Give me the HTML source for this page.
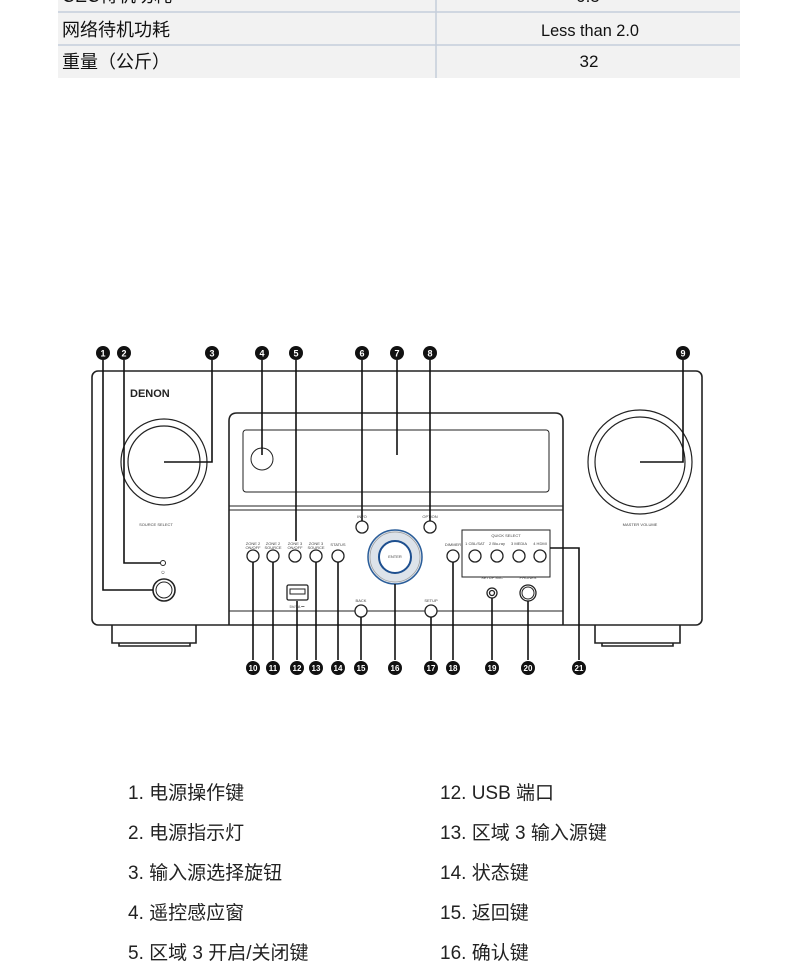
<!DOCTYPE html>
<html><head><meta charset="utf-8"><style>
body{margin:0;background:#fff;width:790px;height:971px;overflow:hidden;font-family:"Liberation Sans","Noto Sans CJK SC",sans-serif}
</style></head><body>
<svg width="790" height="971" viewBox="0 0 790 971" xmlns="http://www.w3.org/2000/svg" style="position:absolute;left:0;top:0">
<!-- table -->
<rect x="58" y="0" width="682" height="78" fill="#f2f2f2"/>
<g stroke="#c5cedb" stroke-width="1.5">
<line x1="58" y1="12" x2="740" y2="12"/><line x1="58" y1="45" x2="740" y2="45"/>
<line x1="436" y1="0" x2="436" y2="78"/></g>
<g font-family="Liberation Sans,Noto Sans CJK SC,sans-serif" font-size="18" fill="#111">
<text x="62" y="2">CEC待机功耗</text>
<text x="588" y="2" text-anchor="middle" font-size="17">0.5</text>
<text x="62" y="36">网络待机功耗</text>
<text x="590" y="36" text-anchor="middle" font-size="17" font-family="Liberation Sans Narrow,Liberation Sans,sans-serif" textLength="98" lengthAdjust="spacingAndGlyphs">Less than 2.0</text>
<text x="62" y="68">重量（公斤）</text>
<text x="589" y="67" text-anchor="middle" font-size="17" font-family="Liberation Sans Narrow,Liberation Sans,sans-serif">32</text>
</g>
<!-- device -->
<g fill="none" stroke="#222" stroke-width="1.6">
<rect x="92" y="371" width="610" height="254" rx="6" fill="#fff"/>
<path d="M112 625 V643 H196 V625 M119 643 V646 H190 V643"/>
<path d="M595 625 V643 H680 V625 M602 643 V646 H673 V643"/>
<path d="M229 625 V421 Q229 413 237 413 H555 Q563 413 563 421 V625"/>
<rect x="243" y="430" width="306" height="62" rx="3" stroke-width="1"/>
<line x1="229" y1="506" x2="563" y2="506" stroke-width="1"/>
<line x1="229" y1="510" x2="563" y2="510" stroke-width="1"/>
<line x1="229" y1="611" x2="563" y2="611" stroke-width="1"/>
<circle cx="164" cy="462" r="43" stroke-width="1.2"/><circle cx="164" cy="462" r="36" stroke-width="1.2"/>
<circle cx="640" cy="462" r="52" stroke-width="1.2"/><circle cx="640" cy="462" r="45" stroke-width="1.2"/>
<circle cx="262" cy="459" r="11" stroke-width="1"/>
<circle cx="164" cy="590" r="11"/><circle cx="164" cy="590" r="8" stroke-width="1"/>
<circle cx="163" cy="563" r="2.5" stroke-width="1"/>
<g stroke-width="1.3">
<circle cx="253" cy="556" r="6"/><circle cx="273" cy="556" r="6"/><circle cx="295" cy="556" r="6"/><circle cx="316" cy="556" r="6"/><circle cx="338" cy="556" r="6"/>
<circle cx="362" cy="527" r="6"/><circle cx="430" cy="527" r="6"/><circle cx="361" cy="611" r="6" fill="#fff"/><circle cx="431" cy="611" r="6" fill="#fff"/>
<circle cx="453" cy="556" r="6"/>
<circle cx="475" cy="556" r="6"/><circle cx="497" cy="556" r="6"/><circle cx="519" cy="556" r="6"/><circle cx="540" cy="556" r="6"/>
<circle cx="528" cy="593" r="8"/><circle cx="528" cy="593" r="6" stroke-width="1"/>
<circle cx="492" cy="593" r="5"/><circle cx="492" cy="593" r="2.5"/>
</g>
<rect x="462" y="530" width="88" height="47" stroke-width="1"/>
<rect x="287" y="585" width="21" height="15" rx="1.5" stroke-width="1.3"/>
<rect x="290" y="589" width="15" height="5" stroke-width="1"/>
</g>
<circle cx="395" cy="557" r="27" fill="#dde3ea" stroke="#2a5d99" stroke-width="1.5"/>
<circle cx="395" cy="557" r="25" fill="none" stroke="#999" stroke-width="0.7"/>
<circle cx="395" cy="557" r="16" fill="#fff" stroke="#1d4f8f" stroke-width="2"/>
<g font-size="4" fill="#444" text-anchor="middle">
<text x="395" y="558">ENTER</text><text x="156" y="526">SOURCE SELECT</text><text x="640" y="526">MASTER VOLUME</text>
<text x="362" y="518">INFO</text><text x="430" y="518">OPTION</text><text x="361" y="602">BACK</text><text x="431" y="602">SETUP</text>
<text x="338" y="546">STATUS</text><text x="453" y="546">DIMMER</text><text x="492" y="579">SETUP MIC</text><text x="528" y="579">PHONES</text>
<text x="253" y="545">ZONE 2</text><text x="253" y="549">ON/OFF</text><text x="273" y="545">ZONE 2</text><text x="273" y="549">SOURCE</text>
<text x="295" y="545">ZONE 3</text><text x="295" y="549">ON/OFF</text><text x="316" y="545">ZONE 3</text><text x="316" y="549">SOURCE</text>
<text x="297" y="608">5V/1A ⎓</text><text x="506" y="537">QUICK SELECT</text><text x="163" y="574">⏻</text>
<text x="475" y="545">1 CBL/SAT</text><text x="497" y="545">2 Blu-ray</text><text x="519" y="545">3 MEDIA</text><text x="540" y="545">4 HDMI</text>
</g>
<text x="130" y="397" font-size="11" font-weight="bold" fill="#222" font-family="Liberation Sans,sans-serif">DENON</text>
<!-- leader lines -->
<g fill="none" stroke="#111" stroke-width="1.6">
<path d="M103 360 V590 H153"/><path d="M124 360 V563 H160"/><path d="M212 360 V462 H164"/>
<path d="M262 360 V455"/><path d="M296 360 V541"/><path d="M362 360 V521"/><path d="M397 360 V455"/><path d="M430 360 V521"/>
<path d="M683 360 V462 H640"/>
<path d="M253 562 V660"/><path d="M273 562 V660"/><path d="M297 601 V660"/><path d="M316 562 V660"/><path d="M338 562 V660"/>
<path d="M361 617 V660"/><path d="M395 584 V660"/><path d="M431 617 V660"/><path d="M453 562 V660"/><path d="M492 598 V660"/><path d="M528 601 V660"/>
<path d="M550 548 H579 V660"/>
</g>
<g font-size="9" font-weight="bold" fill="#fff" text-anchor="middle" font-family="Liberation Sans,sans-serif">
<g fill="#111"><circle cx="103" cy="353" r="7"/><circle cx="124" cy="353" r="7"/><circle cx="212" cy="353" r="7"/><circle cx="262" cy="353" r="7"/><circle cx="296" cy="353" r="7"/><circle cx="362" cy="353" r="7"/><circle cx="397" cy="353" r="7"/><circle cx="430" cy="353" r="7"/><circle cx="683" cy="353" r="7"/>
<circle cx="253" cy="668" r="7"/><circle cx="273" cy="668" r="7"/><circle cx="297" cy="668" r="7"/><circle cx="316" cy="668" r="7"/><circle cx="338" cy="668" r="7"/><circle cx="361" cy="668" r="7"/><circle cx="395" cy="668" r="7"/><circle cx="431" cy="668" r="7"/><circle cx="453" cy="668" r="7"/><circle cx="492" cy="668" r="7"/><circle cx="528" cy="668" r="7"/><circle cx="579" cy="668" r="7"/></g>
<text x="103" y="356.5">1</text><text x="124" y="356.5">2</text><text x="212" y="356.5">3</text><text x="262" y="356.5">4</text><text x="296" y="356.5">5</text><text x="362" y="356.5">6</text><text x="397" y="356.5">7</text><text x="430" y="356.5">8</text><text x="683" y="356.5">9</text>
<g font-size="8"><text x="253" y="671">10</text><text x="273" y="671">11</text><text x="297" y="671">12</text><text x="316" y="671">13</text><text x="338" y="671">14</text><text x="361" y="671">15</text><text x="395" y="671">16</text><text x="431" y="671">17</text><text x="453" y="671">18</text><text x="492" y="671">19</text><text x="528" y="671">20</text><text x="579" y="671">21</text></g>
</g>
<!-- list -->
<g font-size="19" fill="#222" font-family="Liberation Sans,Noto Sans CJK SC,sans-serif">
<text x="128" y="799">1. 电源操作键</text><text x="128" y="839">2. 电源指示灯</text><text x="128" y="879">3. 输入源选择旋钮</text><text x="128" y="919">4. 遥控感应窗</text><text x="128" y="959">5. 区域 3 开启/关闭键</text>
<text x="440" y="799">12. USB 端口</text><text x="440" y="839">13. 区域 3 输入源键</text><text x="440" y="879">14. 状态键</text><text x="440" y="919">15. 返回键</text><text x="440" y="959">16. 确认键</text>
</g>
</svg>
</body></html>
